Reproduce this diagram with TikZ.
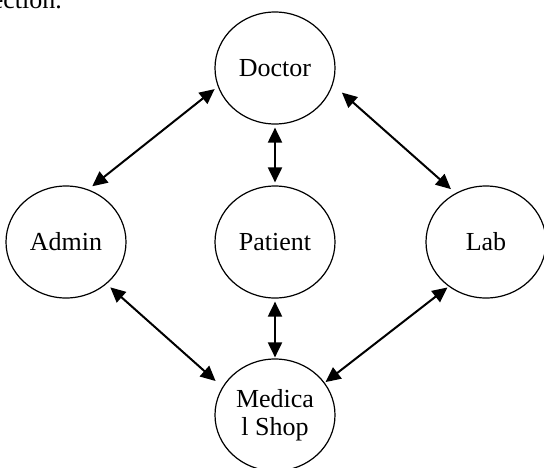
\documentclass[tikz,border=0pt]{standalone}
\usepackage{fontspec}
\setmainfont{Liberation Serif}
\usetikzlibrary{shapes.geometric,arrows.meta}
\begin{document}
\begin{tikzpicture}[x=1pt,y=-1pt,
  ent/.style={draw=black, line width=1.2pt, ellipse, minimum width=120pt, minimum height=112pt,
    inner sep=0pt, font=\fontsize{26}{28}\selectfont, align=center},
  link/.style={line width=2pt, {Triangle[length=15pt,width=14pt]}-{Triangle[length=15pt,width=14pt]}}]
\useasboundingbox (0,0) rectangle (544,467);
\node[anchor=base east, inner sep=0pt, font=\fontsize{26}{28}\selectfont] (cap) at (62,8) {ection.};
\node[ent] (doc)  at (275,68)  {Doctor};
\node[ent] (adm)  at (66,242)  {Admin};
\node[ent] (pat)  at (275,242) {Patient};
\node[ent] (lab)  at (486,242) {Lab};
\node[ent] (shop) at (275,415) {Medica\\l Shop};
\draw[link, shorten <=4pt, shorten >=5pt] (doc.198) -- (adm.67);
\draw[link, shorten <=12pt, shorten >=6pt] (doc.344) -- (lab.122);
\draw[link, shorten <=3pt, shorten >=3pt] (doc.south) -- (pat.north);
\draw[link, shorten <=5pt, shorten >=9pt] (adm.314) -- (shop.152);
\draw[link, shorten <=3pt, shorten >=1pt] (pat.south) -- (shop.north);
\draw[link, shorten <=1.5pt, shorten >=1pt] (lab.230) -- (shop.33);
\end{tikzpicture}
\end{document}
